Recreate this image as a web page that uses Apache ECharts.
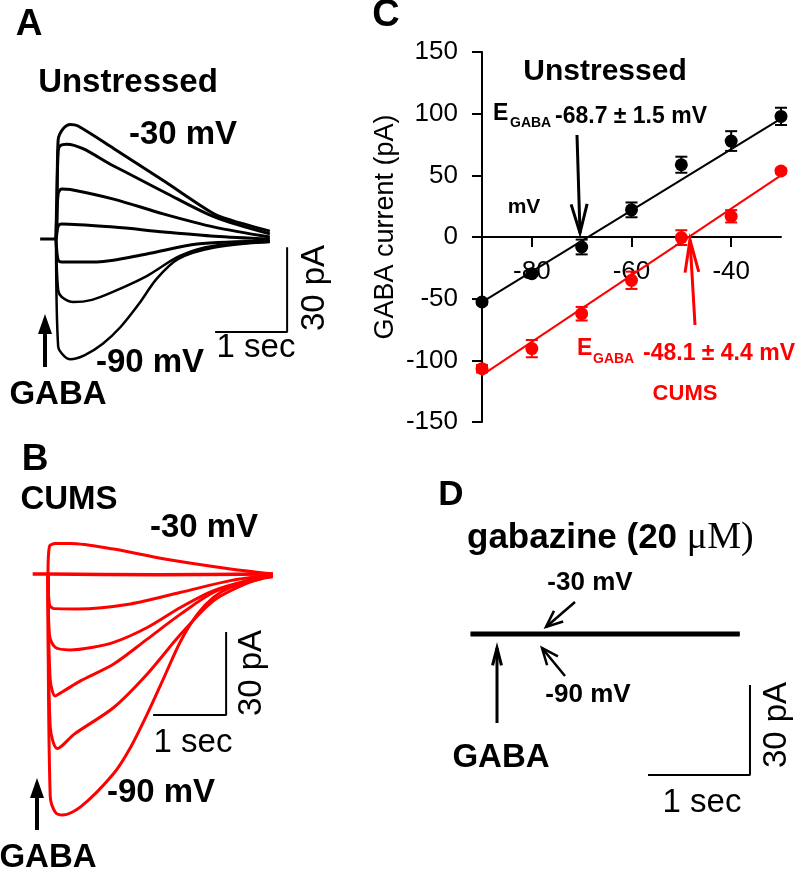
<!DOCTYPE html>
<html><head><meta charset="utf-8">
<script src="https://cdn.jsdelivr.net/npm/echarts@6/dist/echarts.min.js"></script>
<style>html,body{margin:0;padding:0;background:#fff}#c{width:800px;height:869px}</style>
</head><body><div id="c"></div><script>
// ---------- Panel C: I-V relation ----------
const voltages = [-90, -80, -70, -60, -50, -40, -30];
const unstressedMean = [-52.7, -29.7, -8.1, 22, 58.6, 77.8, 97.8];
const unstressedSem = [2, 2, 6, 6, 6.5, 8, 7];
const cumsMean = [-106.8, -90.5, -62.2, -35.1, -0.5, 16.8, 53.5];
const cumsSem = [3, 7, 5.5, 7, 6, 5, 2];
const fitV = [-90, -30];
const unstressedFit = [-52.8, 96];
const cumsFit = [-112, 50];
const xTickValues = [-80, -60, -40];

// ---------- Panel A: Unstressed traces [time s, current pA] ----------
const traceA30 = [[-0.22,0],[0,0],[0.03,35],[0.1,39],[0.2,40.5],[0.3,40],[0.8,32],[1.5,20.5],[2.2,8.8],[2.45,6.5],[2.97,2.8]];
const traceA40 = [[0,0],[0.03,31],[0.06,33],[0.15,33.5],[0.8,25.8],[1.5,16.6],[2.2,7.8],[2.97,1.8]];
const traceA50 = [[0,0],[0.03,16],[0.08,17.7],[0.2,17.5],[0.8,14.1],[1.5,8.8],[2.2,4.2],[2.97,0.7]];
const traceA60 = [[0,0],[0.03,4.5],[0.08,5.3],[0.8,4.2],[1.5,2.5],[2.2,1],[2.97,0]];
const traceA70 = [[0,0],[0.03,-7.5],[0.08,-8.1],[0.57,-8.1],[1.26,-5.3],[1.96,-1.8],[2.97,-0.7]];
const traceA80 = [[0,0],[0.03,-18],[0.08,-20.5],[0.24,-22.3],[0.5,-21.5],[0.79,-18.7],[1.26,-13.1],[1.72,-6],[2.18,-2.5],[2.97,-1.1]];
const traceA90 = [[0,0],[0.03,-38],[0.1,-41],[0.2,-42.5],[0.4,-41],[0.65,-37],[0.9,-31],[1.15,-23],[1.4,-14],[1.7,-7],[2.2,-3],[2.97,-1]];
const scaleBarA = [[2.21,-32.9],[3.21,-32.9],[3.21,-2.9]];

// ---------- Panel B: CUMS traces ----------
const traceB30 = [[0,0],[0.02,10],[0.1,11],[0.3,11],[0.9,9],[1.6,5.4],[2.5,1.8],[3.08,0]];
const traceB40 = [[-0.21,0],[0,0],[1.5,-0.3],[3.08,0]];
const traceB50 = [[0,0],[0.02,-11],[0.08,-12.5],[0.4,-12.6],[1.13,-10.8],[1.82,-6.6],[2.5,-2.4],[3.08,-0.3]];
const traceB60 = [[0,0],[0.02,-22],[0.1,-26.5],[0.3,-27.4],[0.6,-26.5],[0.9,-24.7],[1.36,-19.3],[1.82,-12],[2.27,-6],[2.73,-2.4],[3.08,-0.5]];
const traceB70 = [[0,0],[0.03,-38],[0.1,-44],[0.2,-42.5],[0.45,-38.5],[0.9,-32.5],[1.36,-23.5],[1.82,-14.4],[2.27,-6.6],[2.73,-2.4],[3.08,-0.5]];
const traceB80 = [[0,0],[0.03,-55],[0.13,-63],[0.36,-57.8],[0.9,-48.2],[1.36,-36.1],[1.82,-21.7],[2.27,-9.6],[2.73,-3.3],[3.08,-0.5]];
const traceB90 = [[0,0],[0.03,-80],[0.1,-86],[0.2,-87],[0.45,-84],[0.9,-72],[1.13,-62.6],[1.36,-50.5],[1.59,-37.3],[1.82,-24.1],[2.05,-14.4],[2.27,-8.4],[2.5,-4.8],[2.96,-1.5],[3.08,-1]];
const scaleBarB = [[1.44,-50.9],[2.44,-50.9],[2.44,-20.9]];

// ---------- Panel D: gabazine ----------
const traceD30 = [[-0.25,0.3],[2.39,0.3]];
const traceD90 = [[-0.25,-0.3],[2.39,-0.3]];
const scaleBarD = [[1.49,-47],[2.49,-47],[2.49,-17]];

const SANS = '"Liberation Sans", Arial, sans-serif';
const SERIF = '"Liberation Serif", "Times New Roman", serif';
const RED = '#ff0000';

const chart = echarts.init(document.getElementById('c'), null, {renderer: 'canvas'});

function hiddenAxes(min, max) { return {type: 'value', show: false, min, max}; }
function trace(data, axisIdx, color, width) {
  return {type: 'line', xAxisIndex: axisIdx, yAxisIndex: axisIdx, data, showSymbol: false, symbol: 'none',
    smooth: 0.3, lineStyle: {color, width}, z: 3, silent: true};
}
function bar(data, axisIdx) {
  return {type: 'line', xAxisIndex: axisIdx, yAxisIndex: axisIdx, data, symbol: 'none',
    lineStyle: {color: '#000', width: 2}, silent: true};
}
function txt(text, x, y, size, o) {
  o = o || {};
  return {type: 'text', x, y, rotation: o.rot || 0, z: 10, silent: true,
    style: {text, fontSize: size, fontWeight: o.w || 'bold', fontFamily: o.ff || SANS,
      fill: o.c || '#000', align: o.align || 'center', verticalAlign: 'middle'}};
}
function vHead(x1, y1, x2, y2, len, ang) {
  const a = Math.atan2(y2 - y1, x2 - x1);
  return [[x2 - len * Math.cos(a - ang), y2 - len * Math.sin(a - ang)], [x2, y2],
          [x2 - len * Math.cos(a + ang), y2 - len * Math.sin(a + ang)]];
}
function arrow(x1, y1, x2, y2, len, ang, color, w) {
  return [
    {type: 'polyline', z: 10, silent: true, shape: {points: [[x1, y1], [x2, y2]]}, style: {stroke: color, lineWidth: w, fill: null}},
    {type: 'polyline', z: 10, silent: true, shape: {points: vHead(x1, y1, x2, y2, len, ang)}, style: {stroke: color, lineWidth: w, fill: null}}
  ];
}
function solidArrow(x, yBottom, yTip, headLen, halfW) {
  return [
    {type: 'line', z: 10, silent: true, shape: {x1: x, y1: yBottom, x2: x, y2: yTip + headLen - 2}, style: {stroke: '#000', lineWidth: 4}},
    {type: 'polygon', z: 10, silent: true, shape: {points: [[x, yTip], [x - halfW, yTip + headLen], [x + halfW, yTip + headLen]]}, style: {fill: '#000'}}
  ];
}

function errSeries(mean, sem, color) {
  const data = voltages.map((v, i) => [v, mean[i] - sem[i], mean[i] + sem[i]]);
  return {type: 'custom', xAxisIndex: 0, yAxisIndex: 0, data, z: 4, silent: true,
    renderItem(params, api) {
      const x = api.value(0);
      const lo = api.coord([x, api.value(1)]);
      const hi = api.coord([x, api.value(2)]);
      const cw = 6;
      const st = {stroke: color, lineWidth: 2};
      return {type: 'group', children: [
        {type: 'line', shape: {x1: lo[0], y1: lo[1], x2: hi[0], y2: hi[1]}, style: st},
        {type: 'line', shape: {x1: lo[0] - cw, y1: lo[1], x2: lo[0] + cw, y2: lo[1]}, style: st},
        {type: 'line', shape: {x1: hi[0] - cw, y1: hi[1], x2: hi[0] + cw, y2: hi[1]}, style: st}
      ]};
    }};
}

const axisText = {color: '#000', fontSize: 26, fontFamily: SANS};

const option = {
  animation: false,
  backgroundColor: '#fff',
  grid: [
    {left: 482, top: 52, width: 299, height: 370},   // C
    {left: 20, top: 97.5, width: 324, height: 283},  // A
    {left: 11.5, top: 435.5, width: 328.5, height: 415.5}, // B
    {left: 445, top: 484, width: 346.8, height: 300} // D
  ],
  xAxis: [
    {type: 'value', gridIndex: 0, min: -90, max: -30, position: 'bottom', offset: -185,
      axisLine: {onZero: false, lineStyle: {color: '#000', width: 2}},
      axisTick: {show: true, length: 10, customValues: xTickValues, lineStyle: {color: '#000', width: 2}},
      axisLabel: Object.assign({margin: 22, customValues: xTickValues}, axisText),
      splitLine: {show: false}},
    Object.assign({gridIndex: 1}, hiddenAxes(-0.5, 4)),
    Object.assign({gridIndex: 2}, hiddenAxes(-0.5, 4)),
    Object.assign({gridIndex: 3}, hiddenAxes(-0.5, 2.9))
  ],
  yAxis: [
    {type: 'value', gridIndex: 0, min: -150, max: 150, interval: 50,
      axisLine: {show: true, onZero: false, lineStyle: {color: '#000', width: 2}},
      axisTick: {show: true, length: 10, lineStyle: {color: '#000', width: 2}},
      axisLabel: Object.assign({margin: 24}, axisText),
      splitLine: {show: false}},
    Object.assign({gridIndex: 1}, hiddenAxes(-50, 50)),
    Object.assign({gridIndex: 2}, hiddenAxes(-100, 50)),
    Object.assign({gridIndex: 3}, hiddenAxes(-50, 50))
  ],
  series: [
    {type: 'line', xAxisIndex: 0, yAxisIndex: 0, data: fitV.map((v, i) => [v, unstressedFit[i]]), symbol: 'none', lineStyle: {color: '#000', width: 2}, z: 2, silent: true},
    {type: 'line', xAxisIndex: 0, yAxisIndex: 0, data: fitV.map((v, i) => [v, cumsFit[i]]), symbol: 'none', lineStyle: {color: RED, width: 2}, z: 2, silent: true},
    errSeries(unstressedMean, unstressedSem, '#000'),
    errSeries(cumsMean, cumsSem, RED),
    {type: 'scatter', xAxisIndex: 0, yAxisIndex: 0, data: voltages.map((v, i) => [v, unstressedMean[i]]), symbolSize: 13, itemStyle: {color: '#000', opacity: 1}, z: 5, silent: true},
    {type: 'scatter', xAxisIndex: 0, yAxisIndex: 0, data: voltages.map((v, i) => [v, cumsMean[i]]), symbolSize: 13, itemStyle: {color: RED, opacity: 1}, z: 5, silent: true},
    // Panel A
    trace(traceA30, 1, '#000', 3), trace(traceA40, 1, '#000', 3), trace(traceA50, 1, '#000', 3),
    trace(traceA60, 1, '#000', 3), trace(traceA70, 1, '#000', 3), trace(traceA80, 1, '#000', 2.5),
    trace(traceA90, 1, '#000', 2.5), bar(scaleBarA, 1),
    // Panel B
    trace(traceB30, 2, RED, 3), trace(traceB40, 2, RED, 3.5), trace(traceB50, 2, RED, 3),
    trace(traceB60, 2, RED, 3), trace(traceB70, 2, RED, 3), trace(traceB80, 2, RED, 3),
    trace(traceB90, 2, RED, 3), bar(scaleBarB, 2),
    // Panel D
    trace(traceD30, 3, '#000', 3), trace(traceD90, 3, '#000', 3), bar(scaleBarD, 3)
  ],
  graphic: [].concat(
    // Panel A
    [txt('A', 29, 25, 37), txt('Unstressed', 128, 83, 33), txt('-30 mV', 183, 135, 33),
     txt('-90 mV', 150, 363, 33), txt('GABA', 58, 395, 33),
     txt('1 sec', 256, 348, 33, {w: 'normal'}), txt('30 pA', 315, 288, 33, {w: 'normal', rot: Math.PI / 2})],
    solidArrow(45, 367, 314, 20, 7),
    // Panel B
    [txt('B', 35, 460, 37), txt('CUMS', 69, 500, 33), txt('-30 mV', 204, 528, 33),
     txt('-90 mV', 161, 793, 33), txt('GABA', 48, 858, 33),
     txt('1 sec', 193, 743, 33, {w: 'normal'}), txt('30 pA', 252, 673, 33, {w: 'normal', rot: Math.PI / 2})],
    solidArrow(37, 830, 778, 20, 7),
    // Panel C
    [txt('C', 386, 16, 38), txt('Unstressed', 605, 72, 30),
     txt('GABA current (pA)', 386, 227, 27, {w: 'normal', rot: Math.PI / 2}),
     txt('E', 493, 114, 23, {align: 'left'}), txt('GABA', 510, 123, 14, {align: 'left'}),
     txt('-68.7 \u00b1 1.5 mV', 555, 117, 23, {align: 'left'}),
     txt('mV', 524, 207, 21),
     txt('E', 577, 349, 23, {align: 'left', c: RED}), txt('GABA', 593, 359, 14, {align: 'left', c: RED}),
     txt('-48.1 \u00b1 4.4 mV', 643, 354, 23, {align: 'left', c: RED}),
     txt('CUMS', 685, 394, 22, {c: RED})],
    arrow(577, 135, 580, 233, 30, 0.27, '#000', 3),
    arrow(695, 325, 690, 240, 33, 0.21, RED, 3),
    // Panel D
    [txt('D', 451, 495, 35),
     {type: 'text', x: 467, y: 538, z: 10, silent: true, style: {text: '{a|gabazine (20 }{b|\u03bcM)}', align: 'left', verticalAlign: 'middle',
       rich: {a: {fontSize: 35, fontWeight: 'bold', fontFamily: SANS, fill: '#000'}, b: {fontSize: 38, fontFamily: SERIF, fill: '#000'}}}},
     txt('-30 mV', 590, 583, 26), txt('-90 mV', 588, 695, 26), txt('GABA', 501, 758, 33),
     txt('1 sec', 702, 803, 33, {w: 'normal'}), txt('30 pA', 777, 725, 33, {w: 'normal', rot: Math.PI / 2})],
    arrow(575, 602, 546, 627, 18, 0.4, '#000', 2.5),
    arrow(565, 676, 542, 648, 18, 0.4, '#000', 2.5),
    arrow(497, 723, 497, 648, 18, 0.25, '#000', 3)
  )
};
chart.setOption(option);
</script></body></html>
